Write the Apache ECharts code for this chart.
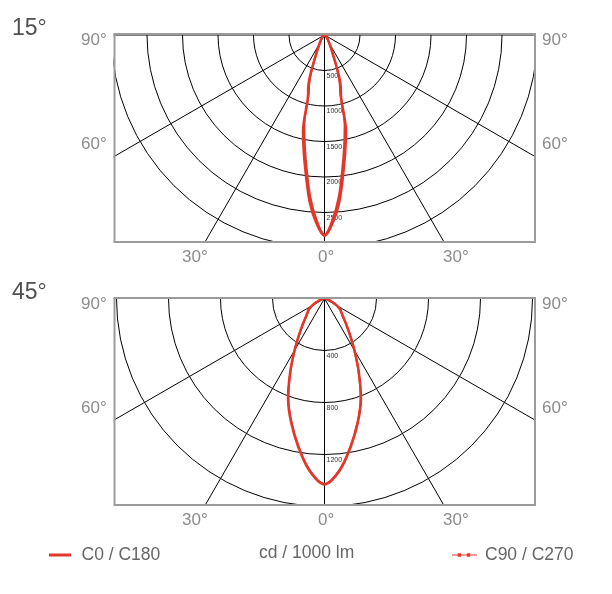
<!DOCTYPE html>
<html><head><meta charset="utf-8">
<script src="https://cdn.jsdelivr.net/npm/echarts@6/dist/echarts.min.js"></script>
<style>html,body{margin:0;padding:0;background:#fff}#c{width:612px;height:594px}</style>
</head><body><div id="c"></div>
<script>
// ---------- data ----------
// angles from nadir (degrees)
const angles15 = [0, 2.5, 5, 7.5, 10, 12.5, 15, 17.5, 20, 25, 30, 35, 40, 45, 50, 60, 70, 80, 90];
const c0c180_15 = [2830, 2650, 2370, 2000, 1680, 1400, 900, 760, 560, 250, 140, 90, 55, 35, 20, 8, 3, 1, 0];
const c90c270_15 = [2810, 2600, 2290, 1910, 1590, 1310, 860, 710, 525, 235, 132, 85, 52, 33, 19, 8, 3, 1, 0];

const angles45 = [0, 5, 10, 15, 20, 25, 30, 35, 40, 45, 50, 55, 60, 65, 70, 75, 80, 85, 90];
const c0c180_45 = [1430, 1330, 1160, 990, 820, 625, 462, 342, 262, 205, 172, 148, 110, 70, 40, 20, 8, 2, 0];
const c90c270_45 = [1425, 1322, 1152, 982, 812, 618, 456, 337, 258, 201, 168, 144, 106, 67, 38, 18, 7, 2, 0];

const radius15 = {max: 3500, step: 500};
const radius45 = {max: 2000, step: 400};

const titles = ['15°', '45°'];
const sideLabels = ['90°', '60°'];
const bottomLabels = ['30°', '0°', '30°'];
const seriesNames = ['C0 / C180', 'C90 / C270'];
const unitLabel = 'cd / 1000 lm';

// ---------- layout / style ----------
const RED = '#e2382c';
const FONT = '"Liberation Sans", Arial, sans-serif';
const CX = 324.5;
const charts = [
  {cy: 35, top: 34, bottom: 242, r: 248.5, rad: radius15, ang: angles15, a: c0c180_15, b: c90c270_15, zAxis: 10, zSer: 12},
  {cy: 298.5, top: 298, bottom: 505, r: 260, rad: radius45, ang: angles45, a: c0c180_45, b: c90c270_45, zAxis: 1, zSer: 2}
];
const BOX_L = 114.5, BOX_R = 535;

function curve(angles, vals) {
  const pts = [];
  for (let i = angles.length - 1; i >= 0; i--) pts.push([vals[i], angles[i]]);
  for (let i = 1; i < angles.length; i++) pts.push([vals[i], 360 - angles[i]]);
  return pts;
}

const polar = [], angleAxis = [], radiusAxis = [], series = [];
charts.forEach((c, i) => {
  polar.push({center: [CX, c.cy], radius: c.r});
  angleAxis.push({
    polarIndex: i, type: 'value', min: 0, max: 360, interval: 30, startAngle: -90, clockwise: true, z: c.zAxis,
    axisLine: {show: false}, axisTick: {show: false}, axisLabel: {show: false},
    splitLine: {show: true, lineStyle: {color: '#000', width: 1}}
  });
  const n = c.rad.max / c.rad.step + 1;
  const cols = [];
  for (let k = 0; k < n; k++) cols.push(k === n - 1 ? 'rgba(0,0,0,0)' : '#000');
  radiusAxis.push({
    polarIndex: i, type: 'value', min: 0, max: c.rad.max, interval: c.rad.step, z: c.zAxis,
    axisLine: {show: false}, axisTick: {show: false},
    axisLabel: {show: true, formatter: v => (v === 0 ? '' : String(v)), fontSize: 7, color: '#333', fontFamily: FONT,
      margin: 2, align: 'left', verticalAlign: 'top', padding: [2, 0, 0, 0]},
    splitLine: {show: true, lineStyle: {color: cols, width: 1}}
  });
  series.push({
    name: seriesNames[0], type: 'line', coordinateSystem: 'polar', polarIndex: i, z: c.zSer,
    data: curve(c.ang, c.a), symbol: 'none', smooth: 0.35,
    itemStyle: {color: RED}, lineStyle: {color: RED, width: 2.5}
  });
  series.push({
    name: seriesNames[1], type: 'line', coordinateSystem: 'polar', polarIndex: i, z: c.zSer,
    data: curve(c.ang, c.b), symbol: 'none', smooth: 0.35,
    itemStyle: {color: RED}, lineStyle: {color: RED, width: 2}
  });
});

// masks
const g = [];
function rect(x, y, w, h, z) {
  g.push({type: 'rect', shape: {x, y, width: w, height: h}, style: {fill: '#fff'}, z, silent: true});
}
// mask A (below top chart, above bottom chart)
rect(0, 0, 612, 297.5, 5);
rect(0, 0, BOX_L - 1, 594, 5);
rect(BOX_R + 1, 0, 612 - BOX_R - 1, 594, 5);
rect(0, 506, 612, 88, 5);
// mask B (above top chart)
rect(0, 0, BOX_L - 1, 594, 20);
rect(BOX_R + 1, 0, 612 - BOX_R - 1, 594, 20);
rect(0, 0, 612, 33.5, 20);
rect(0, 243, 612, 54.5, 20);
// borders
charts.forEach(c => {
  g.push({type: 'rect', shape: {x: BOX_L, y: c.top, width: BOX_R - BOX_L, height: c.bottom - c.top},
    style: {fill: 'none', stroke: '#9b9b9b', lineWidth: 2}, z: 25, silent: true});
});
function txt(s, x, y, size, color, align) {
  g.push({type: 'text', x, y, z: 30, silent: true,
    style: {text: s, font: size + 'px ' + FONT, fill: color, textAlign: align || 'left', align: align || 'left',
      textVerticalAlign: 'middle', verticalAlign: 'middle'}});
}
charts.forEach((c, i) => {
  txt(titles[i], 12, c.top - 5.5, 23, '#505050');
  txt(sideLabels[0], 81, c.top + 6, 17, '#8c8c8c');
  txt(sideLabels[1], 81, c.top + 110, 17, '#8c8c8c');
  txt(sideLabels[0], 542, c.top + 6, 17, '#8c8c8c');
  txt(sideLabels[1], 542, c.top + 110, 17, '#8c8c8c');
  txt(bottomLabels[0], 182, c.bottom + 15, 17, '#8c8c8c');
  txt(bottomLabels[1], 318, c.bottom + 15, 17, '#8c8c8c');
  txt(bottomLabels[2], 443, c.bottom + 15, 17, '#8c8c8c');
});
txt(unitLabel, 259, 553, 17.5, '#666');

const chart = echarts.init(document.getElementById('c'), null, {renderer: 'canvas'});
chart.setOption({
  animation: false,
  backgroundColor: '#fff',
  polar, angleAxis, radiusAxis, series,
  legend: [
    {data: [{name: seriesNames[0], icon: 'path://M0,0h22v3h-22z'}], left: 44, top: 541, itemWidth: 23, itemHeight: 3,
      selectedMode: false, z: 40, textStyle: {color: '#666', fontSize: 17.5, fontFamily: FONT, padding: [0, 0, 0, 5]}},
    {data: [{name: seriesNames[1], icon: 'path://M0,2h22v1h-22z M5,1h3v3h-3z M13,1h3v3h-3z'}], left: 447, top: 541, itemWidth: 25, itemHeight: 4,
      selectedMode: false, z: 40, textStyle: {color: '#666', fontSize: 17.5, fontFamily: FONT, padding: [0, 0, 0, 3]}}
  ],
  graphic: {elements: g}
});
</script></body></html>
